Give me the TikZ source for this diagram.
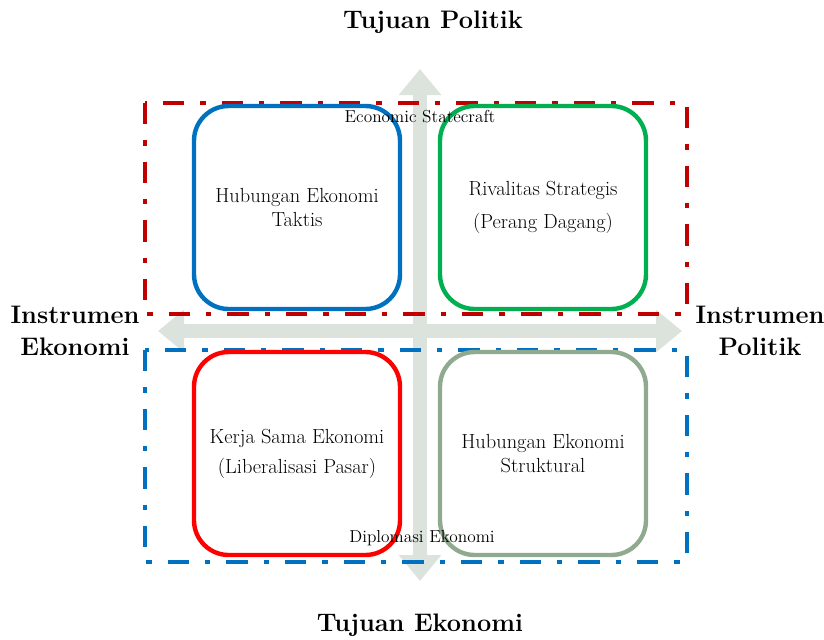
\documentclass[tikz,border=0pt]{standalone}
\usetikzlibrary{arrows.meta}
\definecolor{colorAxis}{RGB}{220,226,220}
\definecolor{colorTaktis}{RGB}{0,112,192}
\definecolor{colorRival}{RGB}{0,176,80}
\definecolor{colorKerja}{RGB}{255,0,0}
\definecolor{colorStruk}{RGB}{143,170,143}
\definecolor{colorES}{RGB}{192,0,0}
\definecolor{colorDE}{RGB}{0,112,192}
\tikzset{
   axis/.style={{Triangle[width=30.75pt,length=19.5pt]}-{Triangle[width=30.75pt,length=19.5pt]},color=colorAxis,line width=10.5pt},
   zone/.style={line width=3pt,dash pattern=on 16pt off 12pt on 4pt off 12pt},
   kotak/.style={draw,line width=3.3pt,rounded corners=26pt,minimum width=154.5pt,minimum height=152.25pt,inner sep=0pt,align=center,font=\fontsize{15.3}{17.5}\selectfont},
   judul/.style={font=\fontsize{19}{24}\selectfont\bfseries,align=center},
   zonelabel/.style={font=\fontsize{13}{15}\selectfont,inner sep=0pt}
 }
\begin{document}
\begin{tikzpicture}[x=0.75pt,y=-0.75pt]
      \useasboundingbox (0,0) rectangle (824,639);
      % axes
      \coordinate (atas) at (420,69);
      \coordinate (bawah) at (420,581);
      \coordinate (kiri) at (158,331);
      \coordinate (kanan) at (682,331);
      \draw[axis] (bawah) -- (atas);
      \draw[axis] (kiri) -- (kanan);

      % zones
      \draw[zone,colorES] (145,103) rectangle (687,314);
      \draw[zone,colorDE] (145,350) rectangle (687,562);

      \node[kotak,draw=colorTaktis] (taktis) at (297,207.5) {Hubungan Ekonomi\\Taktis};
      \node[kotak,draw=colorRival] (rivalitas) at (543,207.5) {Rivalitas Strategis\\[7pt](Perang Dagang)};
      \node[kotak,draw=colorKerja] (kerjasama) at (297,453.5) {Kerja Sama Ekonomi\\[5pt](Liberalisasi Pasar)};
      \node[kotak,draw=colorStruk] (struktural) at (543,453.5) {Hubungan Ekonomi\\Struktural};

      \node[zonelabel] (statecraft) at (420,117) {Economic Statecraft};
      \node[zonelabel] (diplomasi) at (422,538) {Diplomasi Ekonomi};

      \node[judul] (tpolitik) at (433,22) {Tujuan Politik};
      \node[judul] (tekonomi) at (420,625) {Tujuan Ekonomi};
      \node[judul] (iekonomi) at (75,331) {Instrumen\\Ekonomi};
      \node[judul] (ipolitik) at (760,331) {Instrumen\\Politik};
    \end{tikzpicture}
\end{document}
